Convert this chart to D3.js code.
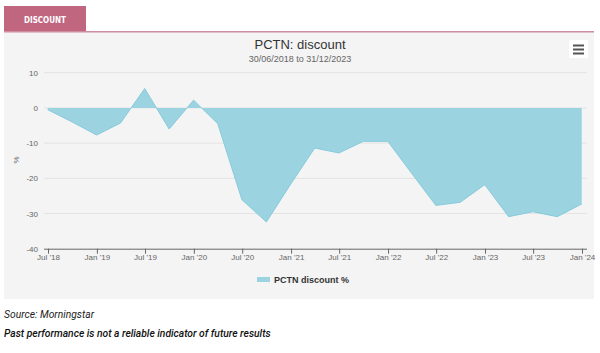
<!DOCTYPE html>
<html lang="en">
  <head>
    <meta charset="UTF-8" />
    <title>PCTN discount</title>
    <script src="https://cdnjs.cloudflare.com/ajax/libs/d3/7.9.0/d3.min.js"></script>
    <style>
      body { margin: 0; background: #fff; }
      svg { display: block; }
    </style>
  </head>
  <body>
    <div id="wrapper"></div>
    <script>
      const dates = [
        "2018-06-30", "2018-09-30", "2018-12-31", "2019-03-31", "2019-06-30",
        "2019-09-30", "2019-12-31", "2020-03-31", "2020-06-30", "2020-09-30",
        "2020-12-31", "2021-03-31", "2021-06-30", "2021-09-30", "2021-12-31",
        "2022-03-31", "2022-06-30", "2022-09-30", "2022-12-31", "2023-03-31",
        "2023-06-30", "2023-09-30", "2023-12-31",
      ];
      const discount = [
        -0.5, -4, -7.7, -4.3, 5.5, -6, 2.2, -4.5, -26.1, -32.4,
        -21.6, -11.4, -12.8, -9.5, -9.5, -18.6, -27.7, -26.8, -21.8, -30.9,
        -29.5, -30.9, -27.3,
      ];
      const yTicks = [10, 0, -10, -20, -30, -40];
      const xTickDates = [
        "2018-07-01", "2019-01-01", "2019-07-01", "2020-01-01", "2020-07-01",
        "2021-01-01", "2021-07-01", "2022-01-01", "2022-07-01", "2023-01-01",
        "2023-07-01", "2024-01-01",
      ];

      const parse = d3.timeParse("%Y-%m-%d");
      const dataset = dates.map((d, i) => ({ date: parse(d), value: discount[i] }));
      const ticks = xTickDates.map(parse);

      const width = 600, height = 353;
      const dims = { left: 48, right: 582, top: 72.7, bottom: 248.7 };

      const svg = d3.select("#wrapper").append("svg")
        .attr("width", width).attr("height", height)
        .style("font-family", "Arial, 'Liberation Sans', sans-serif");

      // tab + panel
      svg.append("rect").attr("x", 4).attr("y", 6).attr("width", 82).attr("height", 26).attr("fill", "#c1667f");
      svg.append("text").attr("x", 24).attr("y", 23).attr("fill", "#fff")
        .attr("font-size", 8.5).attr("font-weight", "bold").attr("font-family", "'DejaVu Sans', sans-serif")
        .attr("textLength", 42).attr("lengthAdjust", "spacingAndGlyphs").text("DISCOUNT");
      svg.append("rect").attr("x", 4).attr("y", 32).attr("width", 590).attr("height", 267).attr("fill", "#f4f4f4");
      svg.append("rect").attr("x", 4).attr("y", 31).attr("width", 590).attr("height", 1.5).attr("fill", "#d08ca0");

      svg.append("text").attr("x", 300).attr("y", 49).attr("text-anchor", "middle")
        .attr("font-size", 13).attr("fill", "#333").text("PCTN: discount");
      svg.append("text").attr("x", 300).attr("y", 62).attr("text-anchor", "middle")
        .attr("font-size", 9).attr("fill", "#666").text("30/06/2018 to 31/12/2023");

      // menu button
      svg.append("rect").attr("x", 569).attr("y", 40).attr("width", 19).attr("height", 18).attr("fill", "#fff");
      [44.5, 48.5, 52.5].forEach(y => svg.append("rect").attr("x", 573).attr("y", y)
        .attr("width", 11).attr("height", 2).attr("fill", "#555"));

      const xScale = d3.scaleTime()
        .domain([parse("2018-07-01"), parse("2024-01-01")])
        .range([dims.left, dims.right]);
      const yScale = d3.scaleLinear().domain([-40, 10]).range([dims.bottom, dims.top]);

      // grid
      svg.append("g").selectAll("line").data(yTicks.filter(t => t !== -40)).join("line")
        .attr("x1", 44).attr("x2", 587)
        .attr("y1", d => yScale(d)).attr("y2", d => yScale(d))
        .attr("stroke", "#e3e3e3").attr("stroke-width", 1);

      // y labels
      svg.append("g").selectAll("text").data(yTicks).join("text")
        .attr("x", 38).attr("y", d => yScale(d) + 3).attr("text-anchor", "end")
        .attr("font-size", 8).attr("fill", "#666").text(d => d);
      svg.append("text").attr("transform", `translate(19,160) rotate(-90)`)
        .attr("text-anchor", "middle").attr("font-size", 8).attr("fill", "#666").text("%");

      // area
      const area = d3.area().x(d => xScale(d.date)).y0(yScale(0)).y1(d => yScale(d.value));
      const line = d3.line().x(d => xScale(d.date)).y(d => yScale(d.value));
      svg.append("path").datum(dataset).attr("d", area).attr("fill", "#9cd3e1");
      svg.append("path").datum(dataset).attr("d", line).attr("fill", "none")
        .attr("stroke", "#86cbdc").attr("stroke-width", 1);

      // x axis
      const xAxis = svg.append("g").attr("transform", `translate(0,${dims.bottom})`)
        .call(d3.axisBottom(xScale).tickValues(ticks).tickSize(5).tickSizeOuter(0)
          .tickFormat(d => d3.timeFormat("%b '%y")(d)));
      xAxis.select(".domain").attr("d", `M44,0.5H587`).attr("stroke", "#666");
      xAxis.selectAll(".tick line").attr("stroke", "#666");
      xAxis.selectAll(".tick text").attr("fill", "#666").attr("font-size", 8)
        .attr("font-family", "Arial, 'Liberation Sans', sans-serif").attr("dy", "0.9em").attr("y", 4);

      // legend
      svg.append("rect").attr("x", 257).attr("y", 277).attr("width", 13).attr("height", 5).attr("fill", "#9cd3e1");
      svg.append("text").attr("x", 274).attr("y", 283).attr("font-size", 9).attr("font-weight", "bold")
        .attr("fill", "#333").text("PCTN discount %");

      // footnotes
      svg.append("text").attr("x", 4).attr("y", 318).attr("font-size", 10.3).attr("font-style", "italic")
        .attr("fill", "#222").attr("font-family", "Roboto, sans-serif").text("Source: Morningstar");
      svg.append("text").attr("x", 4).attr("y", 337).attr("font-size", 10.3).attr("font-style", "italic")
        .attr("font-weight", 500).attr("fill", "#111").attr("font-family", "Roboto, sans-serif")
        .text("Past performance is not a reliable indicator of future results");
    </script>
  </body>
</html>
